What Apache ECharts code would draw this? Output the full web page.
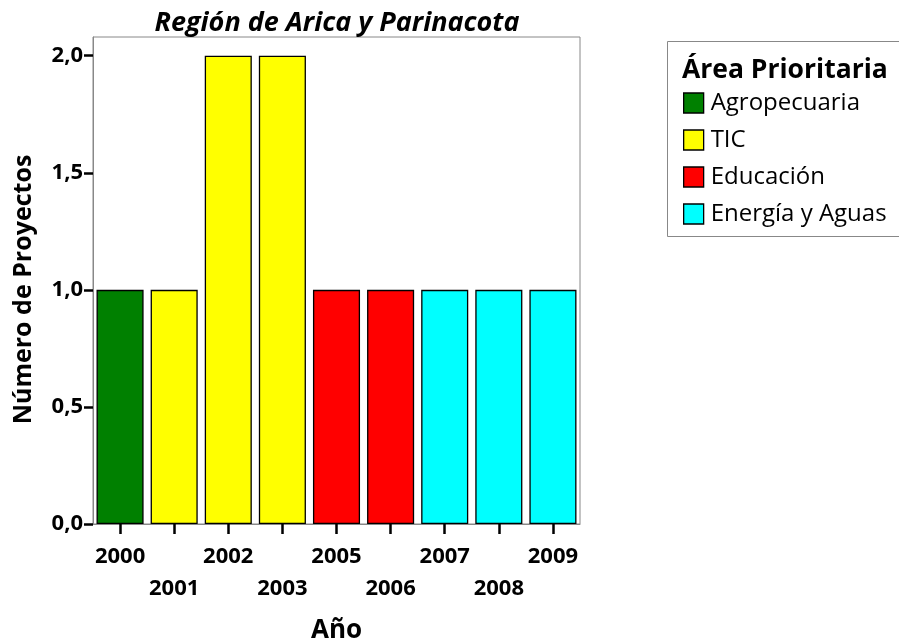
<!DOCTYPE html>
<html><head><meta charset="utf-8">
<script src="https://cdn.jsdelivr.net/npm/echarts@6/dist/echarts.min.js"></script>
<style>html,body{margin:0;padding:0;background:#fff}#c{width:899px;height:644px}</style>
</head><body><div id="c"></div>
<script>
const years = ['2000','2001','2002','2003','2005','2006','2007','2008','2009'];
const agropecuaria = [1, null, null, null, null, null, null, null, null];
const tic = [null, 1, 2, 2, null, null, null, null, null];
const educacion = [null, null, null, null, 1, 1, null, null, null];
const energia = [null, null, null, null, null, null, 1, 1, 1];
const yTicks = [0, 0.5, 1, 1.5, 2];

const FONT = 'Open Sans';
const chart = echarts.init(document.getElementById('c'));
function bar(name, data, color) {
  return {
    name, type: 'bar', stack: 'a', data, barCategoryGap: '13%',
    itemStyle: { color, borderColor: '#000', borderWidth: 1.3 }
  };
}
chart.setOption({
  animation: false,
  textStyle: { fontFamily: FONT },
  title: [
    { text: 'Región de Arica y Parinacota', left: 337, top: 10, textAlign: 'center', padding: 0,
      textStyle: { fontFamily: FONT, fontSize: 27, fontWeight: 'bold', fontStyle: 'italic', color: '#000' } },
    { text: 'Área Prioritaria', left: 682, top: 57, padding: 0,
      textStyle: { fontFamily: FONT, fontSize: 26.5, fontWeight: 'bold', color: '#000' } }
  ],
  graphic: [{ type: 'rect', shape: { x: 667.5, y: 41.5, width: 240, height: 195 },
    style: { fill: 'none', stroke: '#888', lineWidth: 1 } }],
  legend: {
    orient: 'vertical', left: 683, top: 91, itemWidth: 20, itemHeight: 20, itemGap: 13,
    icon: 'rect', padding: 0,
    itemStyle: { borderColor: '#000', borderWidth: 1.3 },
    textStyle: { fontFamily: FONT, fontSize: 24, color: '#000', padding: [0, 0, 0, 2] },
    data: ['Agropecuaria', 'TIC', 'Educación', 'Energía y Aguas']
  },
  grid: { left: 93, right: 319, top: 37, bottom: 120, outerBoundsMode: 'none', containLabel: false,
    show: true, borderColor: '#888', borderWidth: 1 },
  xAxis: {
    type: 'category', data: years,
    name: 'Año', nameLocation: 'middle', nameGap: 94,
    nameTextStyle: { fontFamily: FONT, fontSize: 26, fontWeight: 'bold', color: '#000' },
    axisLine: { show: true, lineStyle: { color: '#888', width: 1 } },
    axisTick: { show: true, alignWithLabel: true, interval: 0, inside: false, length: 10,
      lineStyle: { color: '#000', width: 2.5 } },
    axisLabel: { interval: 0, fontFamily: FONT, fontSize: 22, fontWeight: 'bold', color: '#000', margin: 17, lineHeight: 32,
      formatter: (v, i) => (i % 2 ? '\n' + v : v) }
  },
  yAxis: {
    type: 'value', min: 0, max: 2.08, interval: 0.5,
    name: 'Número de Proyectos', nameLocation: 'middle', nameGap: 57,
    nameTextStyle: { fontFamily: FONT, fontSize: 25, fontWeight: 'bold', color: '#000', padding: [0, 18, 0, 0] },
    splitLine: { show: false },
    axisLine: { show: true, lineStyle: { color: '#888', width: 1 } },
    axisTick: { show: true, length: 9, customValues: yTicks, lineStyle: { color: '#000', width: 2.5 } },
    axisLabel: { fontFamily: FONT, fontSize: 22, fontWeight: 'bold', color: '#000', margin: 10,
      customValues: yTicks, formatter: v => v.toFixed(1).replace('.', ',') }
  },
  series: [
    bar('Agropecuaria', agropecuaria, '#008000'),
    bar('TIC', tic, '#ffff00'),
    bar('Educación', educacion, '#ff0000'),
    bar('Energía y Aguas', energia, '#00ffff')
  ]
});
</script></body></html>
